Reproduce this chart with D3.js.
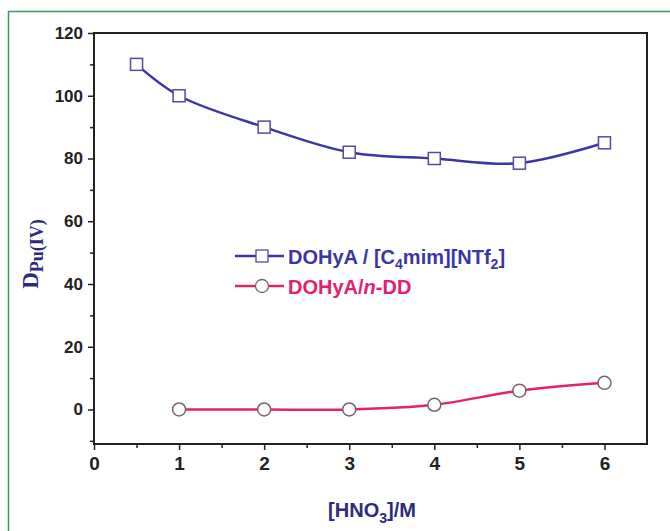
<!DOCTYPE html>
<html>
<head>
<meta charset="utf-8">
<script src="https://cdn.jsdelivr.net/npm/d3@7"></script>
<style>
  body { margin: 0; background: #fff; }
  text { font-family: "Liberation Sans", Arial, sans-serif; font-weight: bold; }
</style>
</head>
<body>
<script>
// values
const hno3Il = [0.5, 1, 2, 3, 4, 5, 6];
const dIl = [110, 100, 90, 82, 80, 78.5, 85];
const hno3Dd = [1, 2, 3, 4, 5, 6];
const dDd = [0, 0, 0, 1.5, 6, 8.5];
const xTicks = [0, 1, 2, 3, 4, 5, 6];
const yTicks = [0, 20, 40, 60, 80, 100, 120];

const W = 670, H = 531;
const margin = { top: 33, right: 23, bottom: 87, left: 94 };
const width = W - margin.left - margin.right;
const height = H - margin.top - margin.bottom;

const root = d3.select('body').append('svg')
    .attr('width', W)
    .attr('height', H);

// green frame of the figure panel
root.append('path')
  .attr('d', 'M8.5,531 V11.5 H670')
  .attr('fill', 'none')
  .attr('stroke', '#3a9a62')
  .attr('stroke-width', 1.5);

const svg = root.append('g')
  .attr('transform', `translate(${margin.left}, ${margin.top})`);

const x = d3.scaleLinear().domain([0, 6.5]).range([0, width]);
const y = d3.scaleLinear().domain([-11, 120]).range([height, 0]);

// frame
svg.append('rect')
  .attr('width', width)
  .attr('height', height)
  .attr('fill', 'none')
  .attr('stroke', '#222')
  .attr('stroke-width', 2);

// x axis, major + minor ticks
const xAxis = d3.axisBottom(x).tickValues(xTicks).tickSize(6).tickPadding(7).tickFormat(d3.format('d'));
const gx = svg.append('g')
  .attr('transform', `translate(0, ${height})`)
  .call(xAxis);
gx.selectAll('text').attr('font-size', 19);
svg.append('g')
  .attr('transform', `translate(0, ${height})`)
  .call(d3.axisBottom(x).tickValues(d3.range(0.5, 6.5, 1)).tickSize(4).tickFormat(''));

const gy = svg.append('g').call(
  d3.axisLeft(y).tickValues(yTicks).tickSize(6).tickPadding(5)
);
gy.selectAll('text').attr('font-size', 17);
svg.append('g').call(
  d3.axisLeft(y).tickValues(d3.range(-10, 120, 20)).tickSize(4).tickFormat('')
);

svg.selectAll('.domain').remove();
svg.selectAll('.tick line').attr('stroke', '#222').attr('stroke-width', 1.5);
svg.selectAll('.tick text')
  .attr('fill', '#222')
  .style('font-family', '"Liberation Sans", Arial, sans-serif')
  .style('font-weight', 'bold');

// series
const blue = '#3b36a6';
const pink = '#e5206e';

const line = d3.line()
  .x(d => x(d[0]))
  .y(d => y(d[1]))
  .curve(d3.curveCatmullRom.alpha(0.5));

const ilData = d3.zip(hno3Il, dIl);
const ddData = d3.zip(hno3Dd, dDd);

svg.append('path')
  .datum(ilData)
  .attr('d', line)
  .attr('fill', 'none')
  .attr('stroke', blue)
  .attr('stroke-width', 2.5);

svg.append('path')
  .datum(ddData)
  .attr('d', line)
  .attr('fill', 'none')
  .attr('stroke', pink)
  .attr('stroke-width', 2.5);

svg.selectAll('.sq')
  .data(ilData)
  .enter().append('rect')
    .attr('class', 'sq')
    .attr('x', d => x(d[0]) - 6)
    .attr('y', d => y(d[1]) - 6)
    .attr('width', 12)
    .attr('height', 12)
    .attr('fill', '#fff')
    .attr('stroke', '#5a48a0')
    .attr('stroke-width', 1.5);

svg.selectAll('.ci')
  .data(ddData)
  .enter().append('circle')
    .attr('class', 'ci')
    .attr('cx', d => x(d[0]))
    .attr('cy', d => y(d[1]))
    .attr('r', 6.5)
    .attr('fill', '#fff')
    .attr('stroke', '#7a6464')
    .attr('stroke-width', 1.5);

// legend
const lg = root.append('g');
lg.append('line').attr('x1', 235).attr('x2', 284).attr('y1', 256).attr('y2', 256)
  .attr('stroke', blue).attr('stroke-width', 2.5);
lg.append('rect').attr('x', 256).attr('y', 250).attr('width', 12).attr('height', 12)
  .attr('fill', '#fff').attr('stroke', '#5a48a0').attr('stroke-width', 1.3);
const t1 = lg.append('text').attr('x', 288).attr('y', 264).attr('font-size', 20).attr('fill', blue);
t1.append('tspan').text('DOHyA / [C');
t1.append('tspan').attr('font-size', 14).attr('dy', 5).text('4');
t1.append('tspan').attr('dy', -5).text('mim][NTf');
t1.append('tspan').attr('font-size', 14).attr('dy', 5).text('2');
t1.append('tspan').attr('dy', -5).text(']');

lg.append('line').attr('x1', 235).attr('x2', 284).attr('y1', 286).attr('y2', 286)
  .attr('stroke', pink).attr('stroke-width', 2.5);
lg.append('circle').attr('cx', 262).attr('cy', 286).attr('r', 6.5)
  .attr('fill', '#fff').attr('stroke', '#7a6464').attr('stroke-width', 1.3);
const t2 = lg.append('text').attr('x', 288).attr('y', 294).attr('font-size', 20).attr('fill', pink);
t2.append('tspan').text('DOHyA/');
t2.append('tspan').attr('font-style', 'italic').text('n');
t2.append('tspan').text('-DD');

// axis titles
const yt = root.append('text')
  .attr('transform', 'translate(38, 254) rotate(-90)')
  .attr('text-anchor', 'middle')
  .attr('fill', '#2e2a80')
  .style('font-family', '"Liberation Serif", "Times New Roman", serif')
  .attr('font-size', 23);
yt.append('tspan').text('D');
yt.append('tspan').attr('font-size', 18).attr('dy', 5).text('Pu(IV)');

const xt = root.append('text')
  .attr('x', 372).attr('y', 517)
  .attr('text-anchor', 'middle')
  .attr('fill', '#2e2a80')
  .attr('font-size', 20);
xt.append('tspan').text('[HNO');
xt.append('tspan').attr('font-size', 14).attr('dy', 6).text('3');
xt.append('tspan').attr('dy', -6).text(']/M');
</script>
</body>
</html>
